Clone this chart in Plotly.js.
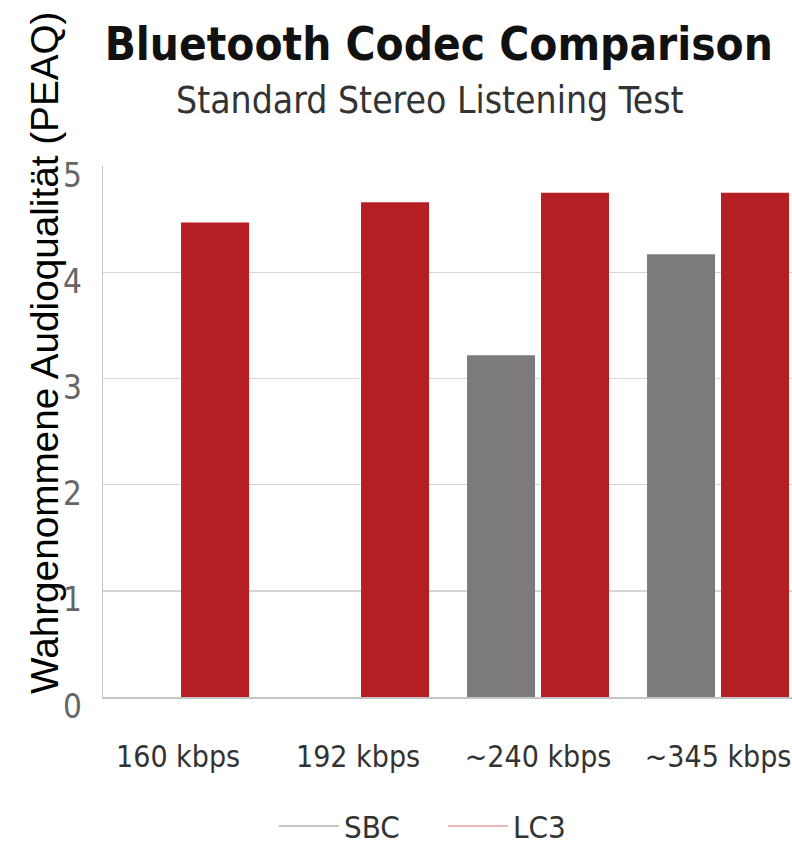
<!DOCTYPE html>
<html>
<head>
<meta charset="utf-8">
<script src="https://cdn.plot.ly/plotly-3.0.1.min.js"></script>
<style>
  html, body { margin: 0; padding: 0; background: #ffffff; }
  #chart { width: 792px; height: 852px; }
</style>
</head>
<body>
<div id="chart"></div>
<script>
// ---- data ----
const categories = ["160 kbps", "192 kbps", "~240 kbps", "~345 kbps"];
const sbcValues = [null, null, 3.22, 4.17];
const lc3Values = [4.47, 4.66, 4.75, 4.75];
const seriesNames = ["SBC", "LC3"];
const yTickValues = [0, 1, 2, 3, 4, 5];

const titleText = "Bluetooth Codec Comparison";
const subtitleText = "Standard Stereo Listening Test";
const yTitleText = "Wahrgenommene Audioqualität (PEAQ)";

// ---- style ----
const NARROW = "Liberation Sans Narrow, DejaVu Sans Condensed, Arial Narrow, sans-serif";
const SANS = "Liberation Sans, Arial, sans-serif";
const GRAY = "#7d7a7a";
const RED = "#b51f24";

const traces = [
  { type: "bar", name: seriesNames[0], x: categories, y: sbcValues,
    marker: { color: GRAY }, showlegend: false, hoverinfo: "x+y+name" },
  { type: "bar", name: seriesNames[1], x: categories, y: lc3Values,
    marker: { color: RED }, showlegend: false, hoverinfo: "x+y+name" },
  // legend entries drawn as lines, as in the reference
  { type: "scatter", mode: "lines", name: seriesNames[0], x: [null], y: [null],
    line: { color: "#b0b0b0", width: 1.5 }, showlegend: true, hoverinfo: "skip" },
  { type: "scatter", mode: "lines", name: seriesNames[1], x: [null], y: [null],
    line: { color: "#e0a0a2", width: 1.5 }, showlegend: true, hoverinfo: "skip" }
];

const layout = {
  width: 792, height: 852,
  paper_bgcolor: "#ffffff", plot_bgcolor: "#ffffff",
  margin: { l: 103, r: 0, t: 166, b: 155, pad: 0, autoexpand: false },
  barmode: "group", bargap: 0.178, bargroupgap: 0.081,
  title: {
    text: "<b>" + titleText + "</b>",
    font: { family: NARROW, size: 45.5, color: "#111111" },
    xref: "container", yref: "container",
    x: 0.554, xanchor: "center", y: 0.948, yanchor: "middle"
  },
  xaxis: {
    type: "category",
    range: [-0.417, 3.411],
    showgrid: false, zeroline: false,
    showline: true, linecolor: "#c4c4c4", linewidth: 1.5,
    ticks: "", ticklabelstandoff: 32,
    tickfont: { family: NARROW, size: 30, color: "#333333" },
    fixedrange: true
  },
  yaxis: {
    range: [0, 5.002],
    tickvals: yTickValues,
    showgrid: true, gridcolor: "#d6d6d6", gridwidth: 1.5,
    zeroline: false,
    showline: true, linecolor: "#c4c4c4", linewidth: 1.5,
    ticks: "", ticklabelstandoff: 13, ticklabelshift: 9,
    tickfont: { family: NARROW, size: 33, color: "#666666" },
    fixedrange: true
  },
  legend: {
    orientation: "h",
    xref: "paper", yref: "container",
    x: 0.4935, xanchor: "center",
    y: 0.03, yanchor: "middle",
    font: { family: NARROW, size: 31, color: "#333333" },
    itemwidth: 60, entrywidth: 94, bgcolor: "rgba(0,0,0,0)"
  },
  annotations: [
    {
      text: subtitleText, showarrow: false,
      xref: "paper", yref: "paper",
      x: 0.4746, xanchor: "center", y: 1.124, yanchor: "middle",
      font: { family: NARROW, size: 37, color: "#333333" }
    },
    {
      text: yTitleText, showarrow: false, textangle: -90,
      xref: "paper", yref: "paper",
      x: -0.0842, xanchor: "center", y: 0.648, yanchor: "middle",
      font: { family: SANS, size: 38.7, color: "#000000" }
    }
  ],
  showlegend: true
};

Plotly.newPlot("chart", traces, layout, { displayModeBar: false, staticPlot: true });
</script>
</body>
</html>
